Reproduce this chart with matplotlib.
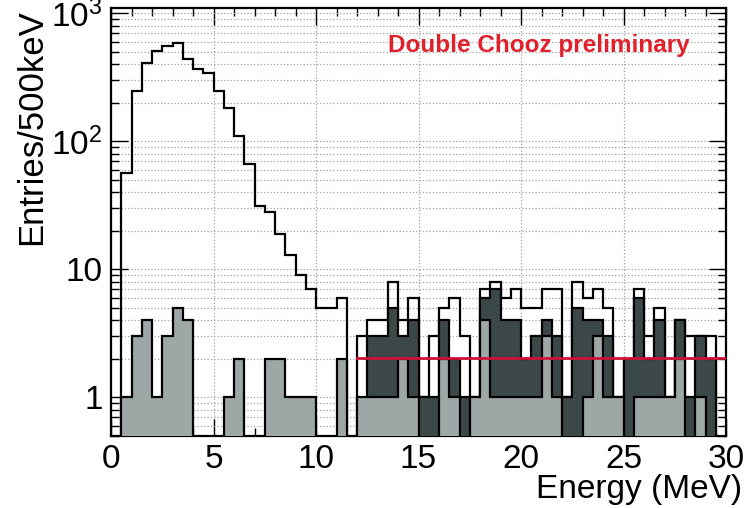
import numpy as np
import matplotlib
matplotlib.use("Agg")
import matplotlib.pyplot as plt
from matplotlib.ticker import FixedLocator, FixedFormatter, MultipleLocator, LogLocator, NullFormatter

plt.rcParams['font.family'] = ['Liberation Sans', 'DejaVu Sans']
plt.rcParams['mathtext.fontset'] = 'custom'
plt.rcParams['mathtext.rm'] = 'Liberation Sans'

# 500 keV bins from 0 to 30 MeV
edges = np.arange(0, 30.5, 0.5)

# all candidates
n_all = [0, 57, 247, 407, 508, 555, 590, 437, 365, 340,
         247, 183, 111, 67, 31, 28, 19, 13, 9, 7,
         5, 5, 6, 0, 3, 4, 4, 8, 4, 6,
         1, 3, 5, 6, 3, 1, 7, 8, 6, 7,
         5, 5, 7, 7, 1, 8, 6, 7, 5, 1,
         2, 7, 3, 5, 1, 4, 3, 3, 3, 0]
# dark grey subset
n_dark = [0] * 24 + [0, 3, 3, 5, 3, 4, 1, 1, 4, 2,
                     1, 0, 6, 7, 4, 4, 2, 3, 4, 3,
                     1, 5, 4, 4, 3, 0, 2, 6, 2, 4,
                     0, 4, 1, 3, 2, 0]
# light grey subset
n_light = [0, 1, 3, 4, 1, 3, 5, 4, 0, 0,
           0, 1, 2, 0, 0, 2, 2, 1, 1, 1,
           0, 0, 2, 0, 1, 1, 1, 1, 2, 1,
           0, 0, 2, 1, 0, 1, 4, 1, 1, 1,
           1, 1, 3, 1, 0, 0, 1, 3, 1, 1,
           0, 1, 1, 1, 1, 2, 0, 1, 0, 0]

# flat background level over 12-30 MeV
flat_level = 2.05
flat_range = [12, 30]

floor = 0.1


def draw_hist(ax, counts, **kw):
    v = np.asarray(counts, dtype=float)
    v = np.where(v > 0, v, floor)
    ax.stairs(v, edges, baseline=floor, **kw)


fig = plt.figure(figsize=(7.47, 5.08), dpi=100)
ax = fig.add_axes([0.1486, 0.1417, 0.8233, 0.8426])

ax.set_yscale('log')
ax.set_xlim(0, 30)
ax.set_ylim(0.5, 1100)

draw_hist(ax, n_all, fill=False, edgecolor='black', linewidth=1.6, zorder=3)
draw_hist(ax, n_dark, fill=True, facecolor='#3c4848', edgecolor='black',
          linewidth=1.6, zorder=4)
draw_hist(ax, n_light, fill=True, facecolor='#9da7a6', edgecolor='black',
          linewidth=1.6, zorder=5)
ax.plot(flat_range, [flat_level, flat_level], color='#d0103a', lw=2.0, zorder=6)

ax.xaxis.set_major_locator(MultipleLocator(5))
ax.xaxis.set_minor_locator(MultipleLocator(1))
ax.yaxis.set_major_locator(FixedLocator([1, 10, 100, 1000]))
ax.yaxis.set_major_formatter(FixedFormatter(
    ['1', '10', r'$\mathregular{10^{2}}$', r'$\mathregular{10^{3}}$']))
ax.yaxis.set_minor_locator(LogLocator(base=10, subs=np.arange(2, 10)))
ax.yaxis.set_minor_formatter(NullFormatter())

ax.grid(True, which='both', axis='y', linestyle=':', color='#a0a0a0', linewidth=0.9)
ax.grid(True, which='major', axis='x', linestyle=':', color='#a0a0a0', linewidth=0.9)
ax.set_axisbelow(True)

ax.tick_params(which='both', direction='in', top=True, right=True,
               width=1.0, labelsize=24)
ax.tick_params(which='major', length=12)
ax.tick_params(which='minor', length=6)
ax.tick_params(axis='x', pad=6)
ax.tick_params(axis='y', pad=6)
for s in ax.spines.values():
    s.set_linewidth(1.6)

fig.text(0.043, 0.75, 'Entries/500keV', rotation=90, ha='center', va='center',
         fontsize=25)
fig.text(0.993, 0.005, 'Energy (MeV)', ha='right', va='bottom', fontsize=24)
ax.text(0.45, 0.913, 'Double Chooz preliminary', transform=ax.transAxes,
        ha='left', va='center', fontsize=17.5, fontweight='bold', color='#e0202a')

fig.savefig('out.png', dpi=100)
